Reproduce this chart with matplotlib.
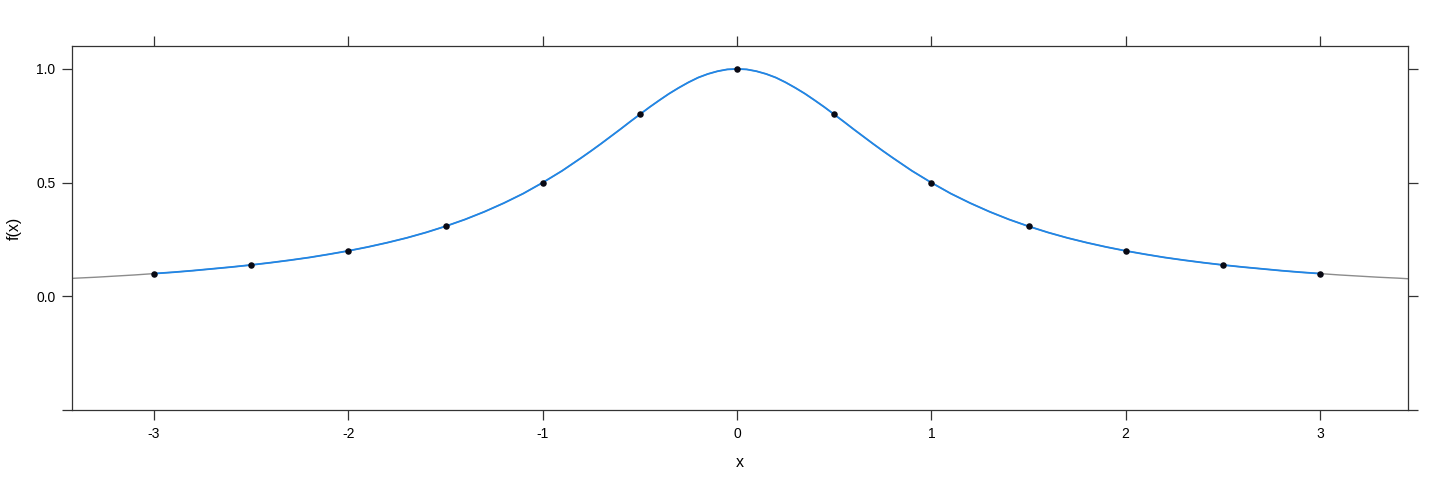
import matplotlib
matplotlib.use('Agg')
import matplotlib.pyplot as plt
import numpy as np

plt.rcParams['font.family'] = ['Liberation Sans', 'DejaVu Sans']

# sample points
pt_x = [-3, -2.5, -2, -1.5, -1, -0.5, 0, 0.5, 1, 1.5, 2, 2.5, 3]
pt_y = [0.100, 0.138, 0.200, 0.308, 0.500, 0.800, 1.000, 0.800, 0.500, 0.308, 0.200, 0.138, 0.100]

# curve values read at x >= 0 (the curve is symmetric)
half_x = [0.0, 0.05, 0.1, 0.15, 0.2, 0.25, 0.3, 0.35, 0.4, 0.45, 0.5, 0.55,
          0.6, 0.65, 0.7, 0.75, 0.8, 0.9, 1.0, 1.1, 1.2,
          1.3, 1.4, 1.5, 1.6, 1.7, 1.8, 1.9, 2.0, 2.1, 2.2, 2.3, 2.4, 2.5,
          2.6, 2.7, 2.8, 2.9, 3.0, 3.1, 3.2, 3.3, 3.4, 3.5]
half_y = [1.000, 0.998, 0.990, 0.978, 0.962, 0.941, 0.917, 0.891, 0.862, 0.832,
          0.800, 0.768, 0.735, 0.703, 0.671, 0.640, 0.610, 0.552,
          0.500, 0.452, 0.410, 0.372, 0.338, 0.308, 0.281, 0.257, 0.236, 0.217,
          0.200, 0.185, 0.171, 0.159, 0.148, 0.138, 0.129, 0.121, 0.113, 0.106,
          0.100, 0.094, 0.089, 0.084, 0.080, 0.075]

x_ticks = [-3, -2, -1, 0, 1, 2, 3]
y_ticks = [-0.5, 0.0, 0.5, 1.0]
y_labels = ['', '0.0', '0.5', '1.0']

hx = np.array(half_x)
hy = np.array(half_y)
cx = np.concatenate([-hx[::-1], hx[1:]])
cy = np.concatenate([hy[::-1], hy[1:]])
inner = np.abs(cx) <= 3.0 + 1e-9

fig = plt.figure(figsize=(14.4, 4.8), dpi=100)
ax = fig.add_axes([0.05, 0.1458, 0.9278, 0.7584])

ax.plot(cx, cy, color='#8c8c8c', lw=1.0, zorder=2)
ax.plot(cx[inner], cy[inner], color='#1f86e8', lw=1.3, zorder=3)
ax.scatter(pt_x, pt_y, s=22, color='#0a0a14', zorder=4, linewidths=0)

ax.set_xlim(-3.422, 3.453)
ax.set_ylim(-0.496, 1.101)
ax.set_xticks(x_ticks)
ax.set_xticklabels([str(v) for v in x_ticks])
ax.set_yticks(y_ticks)
ax.set_yticklabels(y_labels)

ax.tick_params(direction='out', length=7, width=0.9, color='#333333',
               labelsize=10, top=True, right=True, labeltop=False, labelright=False, pad=5)
for s in ax.spines.values():
    s.set_color('#333333')
    s.set_linewidth(0.9)

ax.set_xlabel('x', fontsize=11.5, labelpad=10)
ax.set_ylabel('f(x)', fontsize=11.5, labelpad=10)

fig.savefig('out.png', dpi=100)
